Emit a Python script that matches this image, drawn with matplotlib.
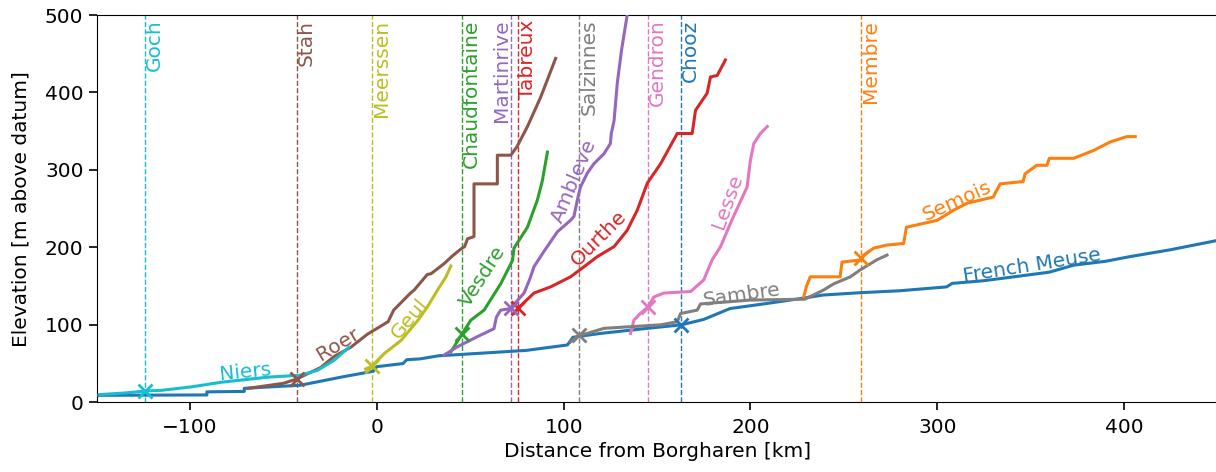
import numpy as np
import matplotlib
matplotlib.use("Agg")
import matplotlib.pyplot as plt
import matplotlib.transforms as mtransforms

# river profiles: distance from Borgharen [km] and elevation [m]
meuse_x = [-150, -91, -91, -71, -71, -41, -18, -2, 0, 14, 16, 23, 33, 60, 80, 102, 105, 120,
           145, 163, 175, 189, 210, 227, 239, 259, 280, 305, 308, 325, 341, 360, 373, 390, 403,
           425, 450]
meuse_y = [9, 9.5, 13.5, 14, 18, 22, 33, 40, 46, 50, 55, 56, 60, 64, 67, 74, 84, 89,
           95.5, 100, 107, 121, 128, 134, 138.5, 141.5, 144, 149, 153.5, 157, 162, 168, 177, 182, 188,
           197, 209]

semois_x = [228.5, 230, 232, 248, 249, 258.8, 260.6, 266, 273, 282, 283.5, 300, 308.7, 316, 330,
            331, 333.7, 346, 347, 353.3, 358.7, 360, 373, 383.6, 392.5, 401.4, 406]
semois_y = [136, 150, 162, 162, 181, 183.7, 190, 199, 203, 205, 226, 235, 248, 257, 265,
            270, 282, 285, 295, 306, 306, 315, 315, 325, 336, 343, 343]

vesdre_x = [39.6, 45, 50.3, 57.4, 66.3, 72.6, 73.4, 80.6, 85.9, 88.5, 91.3]
vesdre_y = [65, 86, 106, 119, 153, 183, 199, 226, 261, 285, 323]

ourthe_x = [73.4, 75.4, 84.1, 93, 103.7, 110.9, 118, 127, 134, 139.4, 144.8, 151.9, 160.8,
            168.8, 170.6, 176.8, 178.6, 182.2, 186.6]
ourthe_y = [115, 121, 141, 149, 162, 175, 188, 201, 222, 248, 283, 308, 347,
            347, 377, 399, 420, 422, 442]

ambleve_x = [36, 43, 54, 62.7, 64, 66.3, 71.7, 74, 78.8, 82, 84.1, 89.5, 96.6, 103.7, 105.5,
             107.3, 109, 112.7, 116.2, 121.6, 125, 125.5, 127, 128.7, 131, 134, 135.5]
ambleve_y = [61, 71.5, 85, 95, 110, 119, 121, 128, 141, 160, 175, 195, 220, 235, 240,
             261, 278, 296, 308, 321, 334, 347, 364, 412, 455, 500, 530]

roer_x = [-69, -50, -43, -30, -23, -14, -5, 6, 9, 18, 20, 27, 29, 36, 40, 45, 47, 48.5, 52, 52,
          64.5, 64.5, 71.7, 75, 80.6, 87.7, 95.7]
roer_y = [18, 24.5, 30, 45, 59, 71, 88, 104, 119, 141, 145, 165, 166, 179, 188, 198, 201, 211,
          214, 282, 282, 319, 319, 330, 356, 394, 444]

lesse_x = [135.8, 137.6, 141.2, 145.1, 148.3, 153.6, 168, 175, 179.5, 184, 190, 198.2, 200,
           201.8, 205.3, 209]
lesse_y = [89, 106, 115, 123, 136, 141, 143, 158, 184, 201, 235, 278, 313, 334, 347, 356]

sambre_x = [103.7, 108.4, 112.7, 121.6, 151.9, 160.8, 162.6, 171.5, 173.3, 200, 226.7, 229,
            239.2, 244.6, 253.5, 258.8, 267.7, 273.1]
sambre_y = [78, 87, 89, 95.5, 100, 104, 114.6, 119, 127, 132, 133, 133,
            145, 153, 162, 171, 184, 190]

geul_x = [-6, -3, 4, 13, 22, 27, 32.5, 37, 39.6]
geul_y = [43, 46, 63, 80, 106, 123, 145, 162, 176]

niers_x = [-148, -135, -124, -115, -99, -83, -58, -41, -32, -23, -15]
niers_y = [10, 12, 14.5, 15.5, 20, 26, 32.5, 35, 41, 54, 71]

rivers = ["French Meuse", "Semois", "Vesdre", "Ourthe", "Ambleve", "Roer", "Lesse",
          "Sambre", "Geul", "Niers"]
river_x = [meuse_x, semois_x, vesdre_x, ourthe_x, ambleve_x, roer_x, lesse_x,
           sambre_x, geul_x, niers_x]
river_y = [meuse_y, semois_y, vesdre_y, ourthe_y, ambleve_y, roer_y, lesse_y,
           sambre_y, geul_y, niers_y]

# label placement along each river (x, y, angle in degrees)
label_x = [350.6, 310.5, 56.5, 118.9, 105.5, -21, 187.5, 195.5, 17.3, -70.6]
label_y = [177, 260, 162, 211.5, 286, 75, 259, 138, 108, 39]
label_rot = [9, 24, 57, 45, 67, 31, 70, 8, 50, 5.5]

# gauging stations (one per river, same order)
stations = ["Chooz", "Membre", "Chaudfontaine", "Tabreux", "Martinrive", "Stah", "Gendron",
            "Salzinnes", "Meerssen", "Goch"]
station_km = [162.8, 259.4, 45.5, 75.5, 72, -43, 145, 108.4, -2.7, -124]

fs = 14.5

fig = plt.figure(figsize=(12.16, 4.72), dpi=100)
ax = fig.add_axes([0.0795, 0.1477, 0.9217, 0.8205])

for i, name in enumerate(rivers):
    color = f"C{i}"
    ax.plot(river_x[i], river_y[i], color=color, lw=2.2, zorder=3)
    ax.text(label_x[i], label_y[i], name, color=color, fontsize=fs, rotation=label_rot[i],
            rotation_mode="anchor", ha="center", va="center", zorder=4)

    xs = station_km[i]
    ax.axvline(xs, color=color, ls="--", lw=1, zorder=2)
    ys = np.interp(xs, river_x[i], river_y[i])
    ax.plot([xs], [ys], marker="x", color=color, ms=10, mew=2, zorder=5)
    trans = mtransforms.blended_transform_factory(ax.transData, ax.transAxes)
    ha = "right" if stations[i] == "Martinrive" else "left"
    ax.text(xs, 0.988, stations[i], color=color, fontsize=fs, rotation=90,
            ha=ha, va="top", transform=trans)

ax.set_xlim(-150, 450)
ax.set_ylim(0, 500)
ax.set_xticks([-100, 0, 100, 200, 300, 400])
ax.set_yticks([0, 100, 200, 300, 400, 500])
ax.tick_params(labelsize=fs, length=6, width=1.2)
ax.tick_params(axis="x", pad=5)
ax.set_xlabel("Distance from Borgharen [km]", fontsize=fs)
ax.set_ylabel("Elevation [m above datum]", fontsize=fs, labelpad=10)

fig.savefig("out.png", dpi=100)
